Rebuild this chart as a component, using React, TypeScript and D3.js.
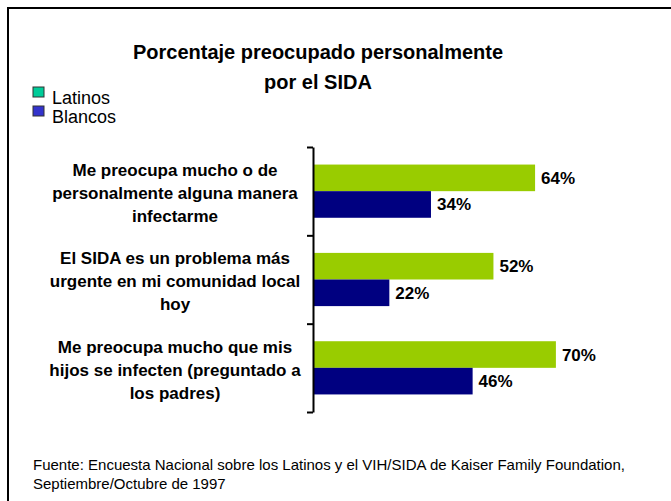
import React, { useEffect, useRef } from 'react';
import * as d3 from 'd3';

const width = 671;
const height = 501;

// data
const categories = [
  ['Me preocupa mucho o de', 'personalmente alguna manera', 'infectarme'],
  ['El SIDA es un problema más', 'urgente en mi comunidad local', 'hoy'],
  ['Me preocupa mucho que mis', 'hijos se infecten (preguntado a', 'los padres)'],
];
const seriesNames = ['Latinos', 'Blancos'];
const latinos = [64, 52, 70];
const blancos = [34, 22, 46];
const titleLines = ['Porcentaje preocupado personalmente', 'por el SIDA'];
const sourceLines = [
  'Fuente: Encuesta Nacional sobre los Latinos y el VIH/SIDA de Kaiser Family Foundation,',
  'Septiembre/Octubre de 1997',
];

const barColors = ['#99CC00', '#000080'];
const legendColors = ['#00CC99', '#3333CC'];
const font = 'Arial, "Liberation Sans", sans-serif';

const App = () => {
  const axisRef = useRef<SVGGElement>(null);

  const keys = categories.map((_, i) => String(i));
  const yScale = d3.scaleBand().domain(keys).range([147, 412]);
  const inner = d3.scaleBand().domain(seriesNames).range([0, yScale.bandwidth()]).paddingOuter(0.66);
  const xScale = d3.scaleLinear().domain([0, 100]).range([313, 660]);
  const tickScale = d3.scaleLinear().domain([0, categories.length]).range([147, 412]);

  const values = [latinos, blancos];

  useEffect(() => {
    const axis = d3.axisLeft(tickScale)
      .tickValues(d3.range(categories.length + 1))
      .tickFormat(() => '')
      .tickSizeInner(6)
      .tickSizeOuter(0);
    const g = d3.select(axisRef.current);
    g.call(axis as any);
    g.select('.domain').attr('stroke', '#000').attr('stroke-width', 2);
    g.selectAll('.tick line').attr('stroke', '#000').attr('stroke-width', 2);
  }, []);

  return (
    <svg width={width} height={height} style={{ position: 'absolute', left: 0, top: 0, background: '#fff' }}
      fontFamily={font}>
      <rect x={0} y={0} width={width} height={height} fill="#fff" />
      {/* frame */}
      <path d={`M8,${height} V8 H${width}`} fill="none" stroke="#000" strokeWidth={2} />

      {/* title */}
      {titleLines.map((t, i) => (
        <text key={i} x={318} y={59 + i * 30} textAnchor="middle" fontSize={20} fontWeight="bold" fill="#000">{t}</text>
      ))}

      {/* legend */}
      {seriesNames.map((s, i) => (
        <g key={s} transform={`translate(33, ${87 + i * 19})`}>
          <rect x={0} y={0} width={11} height={10} fill={legendColors[i]} stroke="#333" strokeWidth={1} />
          <text x={19} y={17} fontSize={18} fill="#000">{s}</text>
        </g>
      ))}

      {/* bars */}
      {keys.map((k, ci) => (
        <g key={k} transform={`translate(0, ${yScale(k)})`}>
          {seriesNames.map((s, si) => {
            const v = values[si][ci];
            const y = inner(s)!;
            return (
              <g key={s}>
                <rect x={xScale(0)} y={y} width={xScale(v) - xScale(0)} height={inner.bandwidth()} fill={barColors[si]} />
                <text x={xScale(v) + 6} y={y + inner.bandwidth() / 2 + 6} fontSize={17} fontWeight="bold" fill="#000">{v}%</text>
              </g>
            );
          })}
          {/* category label */}
          {categories[ci].map((line, li) => (
            <text key={li} x={175} y={yScale.bandwidth() / 2 - 15 + li * 23} textAnchor="middle" fontSize={17} fontWeight="bold" fill="#000">{line}</text>
          ))}
        </g>
      ))}

      <g ref={axisRef} transform={`translate(${xScale(0)}, 0)`} />

      {/* source */}
      {sourceLines.map((t, i) => (
        <text key={i} x={33} y={470 + i * 19} fontSize={15} fill="#000">{t}</text>
      ))}
    </svg>
  );
};

export default App;
